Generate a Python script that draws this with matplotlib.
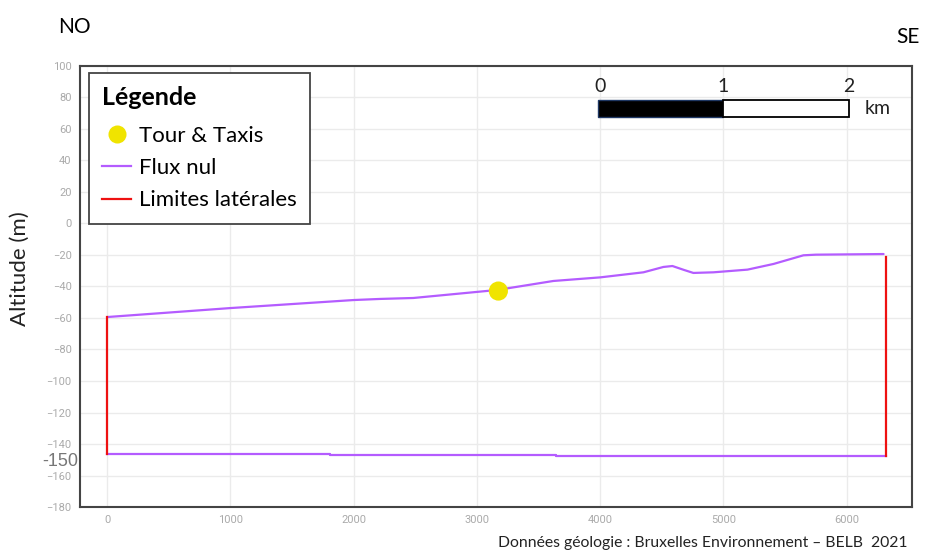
import matplotlib.pyplot as plt
from matplotlib.lines import Line2D
from matplotlib.patches import Rectangle

# top of the model (flux nul), distance in m, altitude in m
top_x = [0, 1000, 2000, 2216, 2484, 3166, 3620, 4002, 4351, 4513, 4586, 4680, 4756, 4919, 5195, 5406, 5649, 5750, 6299]
top_z = [-59.4, -53.7, -48.6, -47.9, -47.3, -42.2, -36.5, -34.2, -31.0, -27.6, -27.0, -29.5, -31.4, -31.0, -29.3, -25.7, -20.2, -19.8, -19.4]

# base of the model (flux nul)
base_x = [0, 1810, 1810, 3645, 3645, 5440, 5440, 6315]
base_z = [-146.6, -146.6, -147.0, -147.0, -147.4, -147.4, -147.8, -147.8]

# lateral limits
left_x = [0, 0]
left_z = [-59.4, -146.6]
right_x = [6315, 6315]
right_z = [-21.0, -147.8]

# Tour & Taxis
site_x = [3174]
site_z = [-42.9]

x_ticks = [0, 1000, 2000, 3000, 4000, 5000, 6000]
y_ticks = list(range(100, -181, -20))

purple = '#b45cff'
red = '#ee1111'
yellow = '#f0e400'

fig = plt.figure(figsize=(9.25, 5.52), dpi=100)
ax = fig.add_axes([0.0865, 0.0815, 0.8995, 0.799])

ax.plot(top_x, top_z, color=purple, lw=1.6, solid_capstyle='round')
ax.plot(base_x, base_z, color=purple, lw=1.6)
ax.plot(left_x, left_z, color=red, lw=1.6)
ax.plot(right_x, right_z, color=red, lw=1.6)
ax.scatter(site_x, site_z, s=190, color=yellow, zorder=5, edgecolors='none')

ax.set_xlim(-220, 6530)
ax.set_ylim(-180, 100)
ax.set_xticks(x_ticks)
ax.set_yticks(y_ticks)
ax.grid(True, color='#ebebeb', lw=1)
ax.set_axisbelow(True)
ax.tick_params(length=0, labelsize=8, labelcolor='#aaaaaa', pad=6)
for lab in ax.get_xticklabels() + ax.get_yticklabels():
    lab.set_fontfamily('Roboto')
for sp in ax.spines.values():
    sp.set_color('#444444')
    sp.set_linewidth(1.5)

# extra depth label at the base
ax.text(-235, -151, '-150', ha='right', va='center', fontsize=13, color='#777777',
        family='Liberation Sans', clip_on=False)

ax.set_ylabel('Altitude (m)', fontsize=16, family='Lato', color='#222222')
ax.yaxis.set_label_coords(-0.06, 0.54)

# scale bar
ax.add_patch(Rectangle((3985, 67.6), 1015, 10.8, facecolor='black', edgecolor='#1f3864', lw=1))
ax.add_patch(Rectangle((5000, 67.6), 1020, 10.8, facecolor='white', edgecolor='black', lw=1.3))
for xv, t in zip([3995, 5000, 6020], ['0', '1', '2']):
    ax.text(xv, 87, t, ha='center', va='center', fontsize=14, family='Lato', color='#222222')
ax.text(6250, 73, 'km', ha='center', va='center', fontsize=14, family='Lato', color='#222222')

handles = [
    Line2D([], [], ls='none', marker='o', ms=13, color=yellow, mec='none'),
    Line2D([], [], color=purple, lw=1.6),
    Line2D([], [], color=red, lw=1.6),
]
leg = ax.legend(handles, ['Tour & Taxis', 'Flux nul', 'Limites latérales'],
                title='Légende', loc='upper left', bbox_to_anchor=(0.011, 0.984),
                borderaxespad=0, fancybox=False, framealpha=1, edgecolor='#444444',
                prop={'family': 'Lato', 'size': 16}, handlelength=1.3, handletextpad=0.35,
                labelspacing=0.55, borderpad=0.6, alignment='left',
                title_fontproperties={'family': 'Lato', 'size': 18, 'weight': 'bold'})
leg.get_frame().set_linewidth(1.3)
leg._legend_box.sep = 12

fig.text(58 / 925, 1 - 27 / 552, 'NO', ha='left', va='center', fontsize=15, family='Lato')
fig.text(920 / 925, 1 - 37 / 552, 'SE', ha='right', va='center', fontsize=15, family='Lato')
fig.text(907 / 925, 1 - 543 / 552, 'Données géologie : Bruxelles Environnement – BELB  2021',
         ha='right', va='center', fontsize=11.3, family='Lato', color='#222222')

fig.savefig('out.png', dpi=100, facecolor='white')
